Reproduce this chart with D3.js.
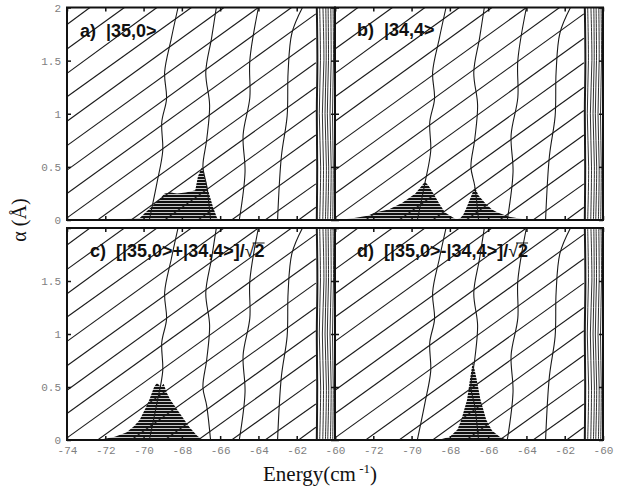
<!DOCTYPE html>
<html>
<head>
<meta charset="utf-8">
<script src="https://cdn.jsdelivr.net/npm/d3@7"></script>
<style>
  body { margin: 0; background: #fff; }
  .tick text { font-family: "Liberation Mono", "DejaVu Sans Mono", monospace; font-size: 11px; fill: #808080; }
</style>
</head>
<body>
<svg width="640" height="488"></svg>
<script>
// energy levels (cm-1) vs alpha (A) as [E, alpha] points
const shallowLevels = [
  [[-61.9, 0], [-61.0, 0.12]],
  [[-63.65, 0], [-61.0, 0.34]],
  [[-65.4, 0], [-61.0, 0.57]],
  [[-67.15, 0], [-61.0, 0.80]],
  [[-68.9, 0], [-61.0, 1.03]],
  [[-70.65, 0], [-61.0, 1.25]],
  [[-72.4, 0], [-61.0, 1.48]],
  [[-74.0, 0.02], [-61.0, 1.71]],
  [[-74.0, 0.25], [-61.0, 1.94]],
  [[-74.0, 0.47], [-62.27, 2.0]],
  [[-74.0, 0.70], [-64.0, 2.0]],
  [[-74.0, 0.93], [-65.8, 2.0]],
  [[-74.0, 1.16], [-67.5, 2.0]],
  [[-74.0, 1.38], [-69.3, 2.0]],
  [[-74.0, 1.61], [-71.0, 2.0]],
  [[-74.0, 1.84], [-72.8, 2.0]]
];

const steepLevels = [
  [[-69.7, 0], [-69.3, 0.35], [-69.0, 0.65], [-69.05, 0.92], [-68.8, 1.14], [-68.9, 1.39], [-68.55, 1.71], [-68.2, 2.0]],
  [[-66.5, 0], [-66.7, 0.32], [-66.9, 0.5], [-66.7, 0.76], [-66.55, 1.08], [-66.75, 1.39], [-66.45, 1.71], [-66.2, 2.0]],
  [[-65.0, 0], [-64.7, 0.45], [-64.8, 0.8], [-64.45, 1.15], [-64.45, 1.5], [-64.0, 2.0]],
  [[-63.0, 0], [-62.8, 0.6], [-62.5, 0.98], [-62.45, 1.39], [-62.25, 1.76], [-61.7, 2.0]]
];

// crowded levels just below -60
const bandLevels = [
  [[-60.95, 0], [-60.93, 0.5], [-60.95, 1], [-60.92, 1.5], [-60.95, 2]],
  [[-60.8, 0], [-60.75, 0.5], [-60.82, 1], [-60.76, 1.5], [-60.8, 2]],
  [[-60.64, 0], [-60.6, 0.5], [-60.66, 1], [-60.58, 1.5], [-60.63, 2]],
  [[-60.5, 0], [-60.45, 0.5], [-60.52, 1], [-60.46, 1.5], [-60.48, 2]],
  [[-60.38, 0], [-60.33, 0.5], [-60.4, 1], [-60.34, 1.5], [-60.36, 2]],
  [[-60.24, 0], [-60.2, 0.5], [-60.26, 1], [-60.2, 1.5], [-60.22, 2]],
  [[-60.12, 0], [-60.09, 0.5], [-60.13, 1], [-60.08, 1.5], [-60.1, 2]]
];

// projections (shaded)
const shadeA = [[-73.0, 0], [-72.0, 0.005], [-71.0, 0.01], [-70.5, 0.015], [-70.2, 0.02], [-69.9, 0.07], [-69.5, 0.14],
  [-69.1, 0.21], [-68.9, 0.25], [-68.6, 0.26], [-68.25, 0.25], [-67.8, 0.26], [-67.5, 0.27], [-67.3, 0.28],
  [-67.16, 0.41], [-66.95, 0.5], [-66.63, 0.28], [-66.37, 0.12], [-66.16, 0.02], [-66.0, 0]];
const shadeB = [[-73.8, 0], [-73.0, 0.02], [-72.3, 0.04], [-71.9, 0.07], [-71.2, 0.1], [-70.5, 0.16], [-69.8, 0.25],
  [-69.3, 0.36], [-69.1, 0.32], [-68.8, 0.23], [-68.5, 0.14], [-68.25, 0.07], [-67.9, 0.03], [-67.65, 0.005],
  [-67.45, 0.02], [-67.3, 0.05], [-67.1, 0.13], [-66.9, 0.22], [-66.7, 0.31], [-66.5, 0.23], [-66.16, 0.16],
  [-65.8, 0.1], [-65.5, 0.07], [-64.9, 0.03], [-64.2, 0.01], [-63.5, 0]];
const shadeC = [[-73.0, 0], [-72.1, 0.01], [-71.5, 0.03], [-70.9, 0.07], [-70.5, 0.13], [-70.2, 0.19], [-69.9, 0.3],
  [-69.7, 0.38], [-69.45, 0.5], [-69.3, 0.54], [-69.1, 0.5], [-68.95, 0.53], [-68.8, 0.45], [-68.6, 0.38],
  [-68.1, 0.25], [-67.6, 0.12], [-67.2, 0.04], [-66.9, 0]];
const shadeD = [[-68.6, 0], [-68.0, 0.03], [-67.6, 0.1], [-67.4, 0.19], [-67.1, 0.38], [-66.95, 0.57], [-66.8, 0.74],
  [-66.6, 0.57], [-66.4, 0.38], [-66.1, 0.19], [-65.8, 0.09], [-65.4, 0.03], [-65.0, 0]];

const panelLabels = ["a)  |35,0>", "b)  |34,4>", "c)  [|35,0>+|34,4>]/", "d)  [|35,0>-|34,4>]/"];
const xTickValues = [-74, -72, -70, -68, -66, -64, -62, -60];
const yTickValues = [0, 0.5, 1, 1.5, 2];

const svg = d3.select("svg");

const defs = svg.append("defs");
const hatch = defs.append("pattern")
    .attr("id", "hatch")
    .attr("patternUnits", "userSpaceOnUse")
    .attr("width", 6).attr("height", 3);
hatch.append("rect").attr("width", 6).attr("height", 3).attr("fill", "#111");
hatch.append("rect").attr("y", 2.1).attr("width", 6).attr("height", 0.9).attr("fill", "#fff").attr("opacity", 0.85);

const panels = [
    { left: 67, right: 335, top: 7.5, bottom: 220, shade: shadeA, label: panelLabels[0], sqrt: false, lx: 80, ly: 37, col: 0, row: 0 },
    { left: 335, right: 603, top: 7.5, bottom: 220, shade: shadeB, label: panelLabels[1], sqrt: false, lx: 357, ly: 36, col: 1, row: 0 },
    { left: 67, right: 335, top: 228, bottom: 440, shade: shadeC, label: panelLabels[2], sqrt: true, lx: 90, ly: 257, col: 0, row: 1 },
    { left: 335, right: 603, top: 228, bottom: 440, shade: shadeD, label: panelLabels[3], sqrt: true, lx: 357, ly: 257, col: 1, row: 1 }
];

panels.forEach((p, i) => {
    const x = d3.scaleLinear().domain([-74, -60]).range([p.left, p.right]);
    const y = d3.scaleLinear().domain([0, 2]).range([p.bottom, p.top]);

    defs.append("clipPath").attr("id", "clip" + i)
        .append("rect")
        .attr("x", p.left).attr("y", p.top)
        .attr("width", p.right - p.left).attr("height", p.bottom - p.top);

    const g = svg.append("g");
    const plot = g.append("g").attr("clip-path", `url(#clip${i})`);

    // shaded projection
    plot.append("path")
        .datum(p.shade)
        .attr("d", d3.area().x(d => x(d[0])).y0(y(0)).y1(d => y(d[1])))
        .attr("fill", "url(#hatch)");

    const straight = d3.line().x(d => x(d[0])).y(d => y(d[1]));
    const smooth = d3.line().x(d => x(d[0])).y(d => y(d[1])).curve(d3.curveCatmullRom);

    plot.selectAll(".shallow")
        .data(shallowLevels)
        .enter().append("path")
        .attr("d", straight)
        .attr("fill", "none").attr("stroke", "#1a1a1a").attr("stroke-width", 1.1);

    plot.selectAll(".steep")
        .data(steepLevels)
        .enter().append("path")
        .attr("d", smooth)
        .attr("fill", "none").attr("stroke", "#1a1a1a").attr("stroke-width", 1.1);

    plot.selectAll(".band")
        .data(bandLevels)
        .enter().append("path")
        .attr("d", smooth)
        .attr("fill", "none").attr("stroke", "#1a1a1a")
        .attr("stroke-width", (d, j) => j === 0 ? 2 : 0.9);

    // inward ticks on all sides
    const xb = g.append("g").attr("transform", `translate(0,${p.bottom})`)
        .call(d3.axisBottom(x).tickValues(xTickValues).tickSize(-4).tickPadding(6)
            .tickFormat(d => (p.row === 1 && !(p.col === 1 && d === -74)) ? d : ""));
    const xt = g.append("g").attr("transform", `translate(0,${p.top})`)
        .call(d3.axisTop(x).tickValues(xTickValues).tickSize(-4).tickFormat(""));
    const yl = g.append("g").attr("transform", `translate(${p.left},0)`)
        .call(d3.axisLeft(y).tickValues(yTickValues).tickSize(-4).tickPadding(6)
            .tickFormat(d => (p.col === 0 && !(p.row === 1 && d === 2)) ? d : ""));
    const yr = g.append("g").attr("transform", `translate(${p.right},0)`)
        .call(d3.axisRight(y).tickValues(yTickValues).tickSize(-4).tickFormat(""));
    [xb, xt, yl, yr].forEach(a => {
        a.select(".domain").remove();
        a.selectAll("line").attr("stroke", "#111").attr("stroke-width", 1.5);
    });

    g.append("rect")
        .attr("x", p.left).attr("y", p.top)
        .attr("width", p.right - p.left).attr("height", p.bottom - p.top)
        .attr("fill", "none").attr("stroke", "#111").attr("stroke-width", 2);

    // panel label
    const t = g.append("text")
        .attr("x", p.lx).attr("y", p.ly)
        .attr("font-family", "Liberation Sans, Arial, sans-serif")
        .attr("font-size", 18).attr("font-weight", "bold")
        .attr("fill", "#111")
        .attr("xml:space", "preserve")
        .text(p.label);
    if (p.sqrt) {
        t.append("tspan").attr("font-weight", "normal").text("\u221A");
        t.append("tspan").text("2");
        const node = t.node();
        const n = node.getNumberOfChars();
        const eRoot = node.getExtentOfChar(n - 2);
        const eTwo = node.getExtentOfChar(n - 1);
        g.append("line")
            .attr("x1", eRoot.x + eRoot.width * 0.8).attr("x2", eTwo.x + eTwo.width)
            .attr("y1", eRoot.y + 2).attr("y2", eRoot.y + 2)
            .attr("stroke", "#111").attr("stroke-width", 1);
    }
});

// axis titles
svg.append("text")
    .attr("transform", "translate(26,220) rotate(-90)")
    .attr("text-anchor", "middle")
    .attr("font-family", "Liberation Serif, Times New Roman, serif")
    .attr("font-size", 20)
    .attr("fill", "#111")
    .text("\u03B1 (\u00C5)");

const xt = svg.append("text")
    .attr("x", 320).attr("y", 481)
    .attr("text-anchor", "middle")
    .attr("font-family", "Liberation Serif, Times New Roman, serif")
    .attr("font-size", 21)
    .attr("fill", "#111");
xt.append("tspan").text("Energy(cm");
xt.append("tspan").attr("font-size", 13).attr("dy", -8).text(" -1");
xt.append("tspan").attr("dy", 8).text(")");
</script>
</body>
</html>
